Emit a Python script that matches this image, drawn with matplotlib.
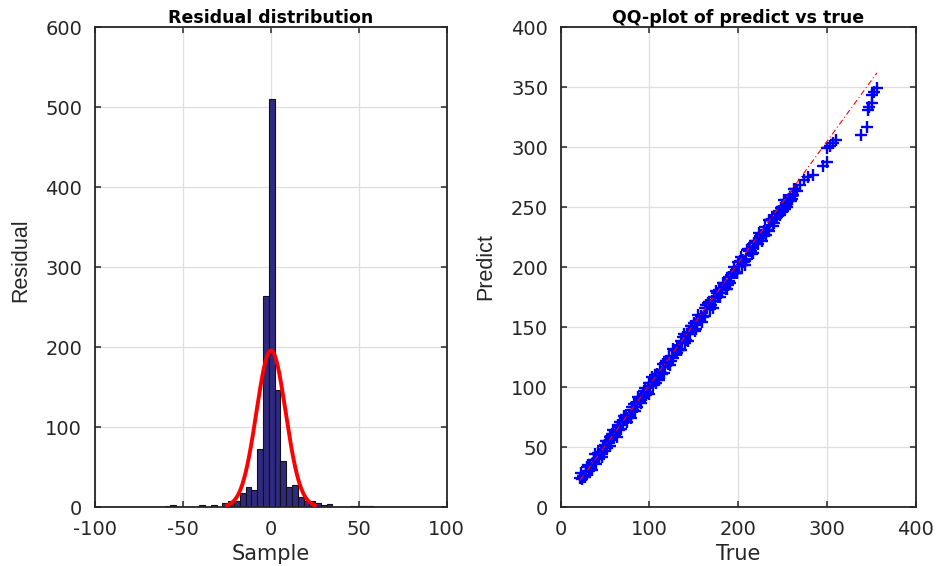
import numpy as np
import matplotlib
matplotlib.use("Agg")
import matplotlib.pyplot as plt
from matplotlib import font_manager

plt.rcParams['axes.unicode_minus'] = False
plt.rcParams['font.family'] = ['DejaVu Sans']

# ---------------- data ----------------
# Residual histogram (bin start, bin width, counts)
hist_bin_start = -60.3
hist_bin_width = 3.29
hist_counts = [1, 2, 0, 0, 0, 0, 3, 0, 3, 0, 5, 8, 7, 17, 25, 21, 73, 264, 510,
               146, 58, 25, 27, 12, 8, 7, 5, 3, 4, 0, 0, 0, 1, 1, 1, 1]
# fitted normal parameters
fit_mu = 0.2
fit_sigma = 8.3

# QQ-plot points (true, predict)
qq_true = [22, 26, 30, 34, 38, 42, 46, 50, 54, 58, 62, 66, 70, 74, 78, 82, 86, 90,
           94, 98, 102, 106, 110, 114, 118, 122, 126, 130, 134, 138, 142, 146, 150,
           154, 158, 162, 166, 170, 174, 178, 182, 186, 190, 194, 198, 202, 206, 210,
           214, 218, 222, 226, 230, 234, 238, 242, 246, 250, 254, 258, 262,
           24, 28, 32, 36, 40, 44, 48, 52, 56, 60, 64, 68, 72, 76, 80, 84, 88, 92,
           96, 100, 104, 108, 112, 116, 120, 124, 128, 132, 136, 140, 144, 148, 152,
           156, 160, 164, 168, 172, 176, 180, 184, 188, 192, 196, 200, 204, 208, 212,
           216, 220, 224, 228, 232, 236, 240, 244, 248, 252, 256, 260, 264,
           23, 27, 31, 35, 39, 43, 47, 51, 55, 59, 63, 67, 71, 75, 79, 83, 87, 91,
           95, 99, 103, 107, 111, 115, 119, 123, 127, 131, 135, 139, 143, 147, 151,
           155, 159, 163, 167, 171, 175, 179, 183, 187, 191, 195, 199, 203, 207, 211,
           215, 219, 223, 227, 231, 235, 239, 243, 247, 251, 255, 259, 263,
           25, 29, 33, 37, 41, 45, 49, 53, 57, 61, 65, 69, 73, 77, 81, 85, 89, 93,
           97, 101, 105, 109, 113, 117, 121, 125, 129, 133, 137, 141, 145, 149, 153,
           157, 161, 165, 169, 173, 177, 181, 185, 189, 193, 197, 201, 205, 209, 213,
           217, 221, 225, 229, 233, 237, 241, 245, 249, 253, 257, 261,
           266, 270, 274, 279, 284.5, 295, 299.5, 300, 303.3, 307, 310, 338.2,
           345.3, 346, 347.5, 350, 351, 353, 356]
qq_pred = [24, 25, 33, 32, 39, 45, 44, 52, 53, 61, 62, 64, 72, 77, 77, 83, 83, 92,
           97, 96, 103, 110, 109, 111, 120, 125, 124, 131, 131, 142, 144, 145, 153,
           152, 159, 159, 170, 172, 172, 181, 181, 182, 192, 195, 195, 205, 204, 214,
           213, 220, 219, 227, 233, 230, 240, 241, 247, 247, 256, 258, 260,
           23, 30, 30, 37, 36, 44, 51, 49, 58, 59, 68, 65, 73, 74, 83, 80, 90, 91,
           93, 103, 102, 108, 114, 112, 121, 122, 131, 131, 138, 137, 144, 151, 148,
           157, 158, 168, 165, 172, 178, 178, 187, 185, 193, 195, 204, 202, 205, 213,
           212, 222, 224, 226, 231, 239, 237, 242, 249, 248, 255, 257, 265,
           28, 25, 35, 31, 44, 40, 42, 55, 51, 64, 58, 71, 76, 71, 74, 86, 92, 87,
           99, 94, 108, 103, 106, 119, 122, 118, 132, 128, 131, 144, 138, 151, 147,
           160, 154, 166, 171, 166, 180, 175, 187, 182, 187, 200, 196, 208, 202, 215,
           211, 222, 228, 222, 227, 239, 234, 246, 243, 256, 250, 255, 265,
           26, 27, 33, 39, 40, 46, 47, 55, 57, 60, 67, 68, 74, 75, 81, 87, 88, 94,
           95, 101, 106, 111, 112, 117, 119, 126, 131, 132, 137, 139, 146, 148, 155,
           157, 159, 166, 168, 175, 175, 181, 186, 188, 195, 195, 201, 206, 207, 215,
           216, 221, 224, 230, 231, 239, 241, 244, 250, 251, 257, 260,
           263, 268, 272.5, 275.3, 276.7, 284.2, 287.8, 298.9, 300.8, 303.6, 305.8, 310,
           316.9, 330.8, 333.6, 336.4, 343.3, 346.1, 348.9]
# reference line endpoints
qq_line_x = [22, 356]
qq_line_y = [22.5, 361.8]


def has_font(name):
    try:
        font_manager.findfont(font_manager.FontProperties(family=name),
                              fallback_to_default=False)
        return True
    except Exception:
        return False


if has_font('Liberation Sans Narrow'):
    vfam, vsize = ['Liberation Sans Narrow', 'DejaVu Sans'], 18.5
else:
    vfam, vsize = ['Liberation Sans', 'DejaVu Sans'], 15.5

# ---------------- figure ----------------
fig = plt.figure(figsize=(9.36, 5.66), dpi=100)
axL = fig.add_axes([0.1012, 0.1042, 0.376, 0.848])
axR = fig.add_axes([0.599, 0.1042, 0.3796, 0.848])

txt = '#262626'
for ax in (axL, axR):
    ax.set_axisbelow(True)
    ax.grid(True, color='#dedede', linewidth=0.9)
    ax.tick_params(direction='in', length=4.5, width=1.1, top=True, right=True,
                   colors=txt, labelsize=14)
    ax.tick_params(axis='y', pad=9)
    ax.tick_params(axis='x', pad=9)
    for s in ax.spines.values():
        s.set_color(txt)
        s.set_linewidth(1.3)

# left: histogram
n = len(hist_counts)
edges = hist_bin_start + hist_bin_width * np.arange(n + 1)
axL.bar(edges[:-1], hist_counts, width=hist_bin_width, align='edge',
        color='#2f2a80', edgecolor='#111111', linewidth=0.8, zorder=2)
N = sum(hist_counts)
xs = np.linspace(fit_mu - 3 * fit_sigma, fit_mu + 3 * fit_sigma, 300)
ys = N * hist_bin_width / (fit_sigma * np.sqrt(2 * np.pi)) * np.exp(-0.5 * ((xs - fit_mu) / fit_sigma) ** 2)
axL.plot(xs, ys, color='#ff0000', linewidth=2.8, zorder=3)
axL.set_xlim(-100, 100)
axL.set_ylim(0, 600)
axL.set_xticks([-100, -50, 0, 50, 100])
axL.set_yticks([0, 100, 200, 300, 400, 500, 600])
axL.set_title('Residual distribution', fontsize=12.5, fontweight='bold', color='black', pad=3)
axL.set_xlabel('Sample', fontsize=15, color=txt)
axL.xaxis.set_label_coords(0.5, -0.077)
axL.set_ylabel('Residual', fontsize=vsize, color=txt, family=vfam)
axL.yaxis.set_label_coords(-0.18, 0.515)

# right: QQ plot
axR.plot(qq_true, qq_pred, linestyle='none', marker='+', markersize=8.5,
         markeredgewidth=1.7, color='#0000ff', zorder=2)
axR.plot(qq_line_x, qq_line_y, color='#ff0000', linewidth=0.8,
         linestyle=(0, (5, 2.5, 1, 2.5)), zorder=3)
axR.set_xlim(0, 400)
axR.set_ylim(0, 400)
axR.set_xticks([0, 100, 200, 300, 400])
axR.set_yticks(np.arange(0, 401, 50))
axR.set_title('QQ-plot of predict vs true', fontsize=12.5, fontweight='bold', color='black', pad=3)
axR.set_xlabel('True', fontsize=15, color=txt)
axR.xaxis.set_label_coords(0.5, -0.077)
axR.set_ylabel('Predict', fontsize=vsize, color=txt, family=vfam)
axR.yaxis.set_label_coords(-0.18, 0.5)

fig.savefig('out.png', dpi=100)
